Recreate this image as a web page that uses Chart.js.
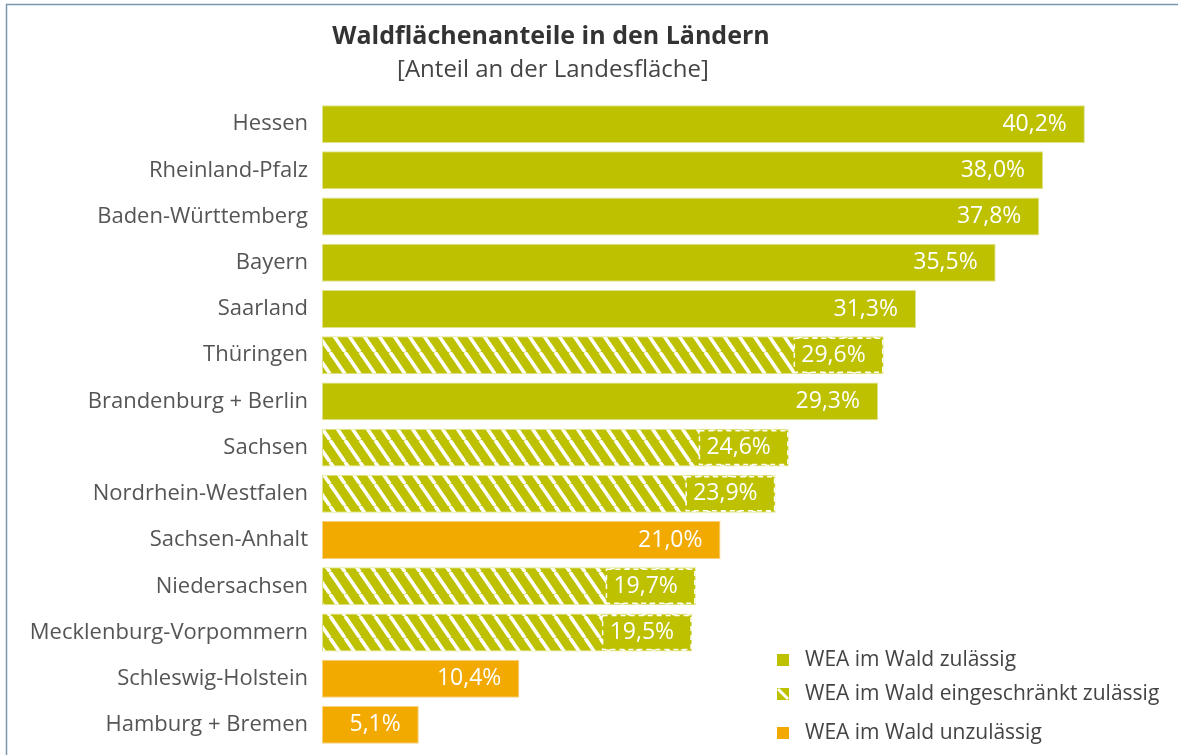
<!DOCTYPE html>
<html lang="de">
<head>
<meta charset="utf-8">
<title>Waldflächenanteile in den Ländern</title>
<script src="https://cdn.jsdelivr.net/npm/chart.js@4.4.1/dist/chart.umd.min.js"></script>
<style>
  html, body { margin: 0; padding: 0; background: #fff; }
  #wrap { position: relative; width: 1178px; height: 755px; }
</style>
</head>
<body>
<div id="wrap"><canvas id="waldChart"></canvas></div>
<script>
const categories = ['Hessen', 'Rheinland-Pfalz', 'Baden-Württemberg', 'Bayern', 'Saarland', 'Thüringen',
    'Brandenburg + Berlin', 'Sachsen', 'Nordrhein-Westfalen', 'Sachsen-Anhalt', 'Niedersachsen',
    'Mecklenburg-Vorpommern', 'Schleswig-Holstein', 'Hamburg + Bremen'];
const values = [40.2, 38.0, 37.8, 35.5, 31.3, 29.6, 29.3, 24.6, 23.9, 21.0, 19.7, 19.5, 10.4, 5.1];
// 0 = zulässig, 1 = eingeschränkt zulässig, 2 = unzulässig
const status = [0, 0, 0, 0, 0, 1, 0, 1, 1, 2, 1, 1, 2, 2];
const seriesNames = ['WEA im Wald zulässig', 'WEA im Wald eingeschränkt zulässig', 'WEA im Wald unzulässig'];
const titleText = 'Waldflächenanteile in den Ländern';
const subtitleText = '[Anteil an der Landesfläche]';

const OLIVE = '#bec100';
const ORANGE = '#f2a900';
const FONT = "'Open Sans', 'Noto Sans', sans-serif";

// hatch pattern: white diagonal stripes on olive
function makeHatch() {
    const w = 15, h = 22;
    const c = document.createElement('canvas');
    c.width = w; c.height = h;
    const g = c.getContext('2d');
    g.fillStyle = OLIVE;
    g.fillRect(0, 0, w, h);
    g.strokeStyle = '#ffffff';
    g.lineWidth = 3.6;
    for (let x0 = -w; x0 <= w; x0 += w) {
        g.beginPath();
        g.moveTo(x0, 0);
        g.lineTo(x0 + w, h);
        g.stroke();
    }
    return g.createPattern(c, 'repeat');
}
const hatch = makeHatch();

const fills = [OLIVE, hatch, ORANGE];
const edges = ['#dfe28c', '#dfe28c', '#f7d27f'];

const datasets = seriesNames.map((name, k) => ({
    label: name,
    data: values.map((v, i) => status[i] === k ? v : null),
    backgroundColor: fills[k],
    borderColor: edges[k],
    borderWidth: 1,
    borderSkipped: false,
    barPercentage: 0.82,
    categoryPercentage: 1
}));

function fmt(v) {
    return v.toFixed(1).replace('.', ',') + '%';
}

const decorations = {
    id: 'decorations',
    beforeDraw(chart) {
        const ctx = chart.ctx;
        ctx.save();
        // frame (left + top)
        ctx.strokeStyle = '#7a98ad';
        ctx.lineWidth = 1.5;
        ctx.beginPath();
        ctx.moveTo(6.5, chart.height);
        ctx.lineTo(6.5, 4.5);
        ctx.lineTo(chart.width, 4.5);
        ctx.stroke();
        // titles
        ctx.textAlign = 'center';
        ctx.textBaseline = 'middle';
        ctx.fillStyle = '#333333';
        ctx.font = 'bold 25px ' + FONT;
        ctx.fillText(titleText, 551, 37);
        ctx.fillStyle = '#444444';
        ctx.font = '24px ' + FONT;
        ctx.fillText(subtitleText, 553, 70);
        ctx.restore();
    },
    afterDatasetsDraw(chart) {
        const ctx = chart.ctx;
        ctx.save();
        ctx.font = '23px ' + FONT;
        ctx.textAlign = 'right';
        ctx.textBaseline = 'middle';
        chart.data.datasets.forEach((ds, k) => {
            const meta = chart.getDatasetMeta(k);
            meta.data.forEach((bar, i) => {
                const v = ds.data[i];
                if (v === null) return;
                const label = fmt(v);
                const right = bar.x - 18;
                if (k === 1) {
                    const tw = ctx.measureText(label).width;
                    const top = bar.y - bar.height / 2 + 2;
                    const left = right - tw - 7;
                    ctx.fillStyle = OLIVE;
                    ctx.fillRect(left, top, bar.x - 1 - left, bar.height - 4);
                    ctx.strokeStyle = '#ffffff';
                    ctx.lineWidth = 1.5;
                    ctx.setLineDash([5, 4]);
                    ctx.strokeRect(left, top, bar.x - 1 - left, bar.height - 4);
                    ctx.setLineDash([]);
                }
                ctx.fillStyle = '#ffffff';
                ctx.fillText(label, right, bar.y);
            });
        });
        // legend
        const lx = 777, ly = [660, 694, 733];
        ctx.textAlign = 'left';
        ctx.font = '21px ' + FONT;
        seriesNames.forEach((name, k) => {
            const y = ly[k];
            if (k === 1) {
                ctx.fillStyle = OLIVE;
                ctx.fillRect(lx, y - 6, 12, 12);
                ctx.strokeStyle = '#ffffff';
                ctx.lineWidth = 3;
                ctx.beginPath();
                ctx.moveTo(lx + 1, y - 5);
                ctx.lineTo(lx + 11, y + 5);
                ctx.stroke();
            } else {
                ctx.fillStyle = fills[k];
                ctx.fillRect(lx, y - 6, 12, 12);
            }
            ctx.fillStyle = '#444444';
            ctx.fillText(name, 805, y);
        });
        ctx.restore();
    }
};

new Chart(document.getElementById('waldChart').getContext('2d'), {
    type: 'bar',
    data: {
        labels: categories,
        datasets: datasets
    },
    options: {
        indexAxis: 'y',
        responsive: true,
        maintainAspectRatio: false,
        animation: false,
        layout: {
            padding: { top: 101, bottom: 7, left: 0, right: 21 }
        },
        plugins: {
            legend: { display: false },
            title: { display: false },
            tooltip: { enabled: false }
        },
        scales: {
            x: {
                stacked: true,
                display: false,
                min: 0,
                max: 44
            },
            y: {
                stacked: true,
                grid: { display: false, drawTicks: false },
                border: { display: false },
                ticks: {
                    padding: 14,
                    color: '#555555',
                    font: { family: FONT, size: 22 }
                },
                afterFit: function(scale) {
                    scale.width = 322;
                    // labels sit next to the bars, no extra room needed above/below
                    scale.paddingTop = 0;
                    scale.paddingBottom = 0;
                }
            }
        }
    },
    plugins: [decorations]
});
</script>
</body>
</html>
